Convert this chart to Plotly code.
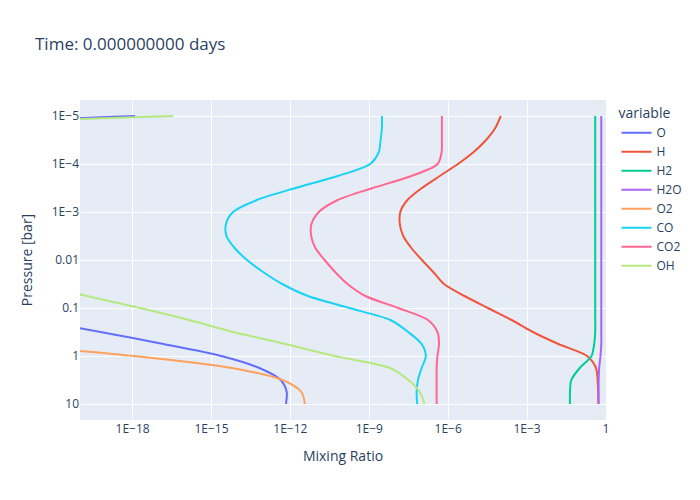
import numpy as np
import pandas as pd
import plotly.express as px

# Pressure levels [bar]
pressure = [1.0e-5, 1.778e-5, 3.162e-5, 5.623e-5, 1.0e-4, 1.778e-4, 3.162e-4, 5.623e-4,
            1.0e-3, 1.778e-3, 3.162e-3, 5.623e-3, 1.0e-2, 1.778e-2, 3.162e-2, 5.623e-2,
            1.0e-1, 1.778e-1, 3.162e-1, 5.623e-1, 1.0, 1.778, 3.162, 5.623, 10.0]

N = None
# log10 of mixing ratio, per species, at each pressure level
O_log = [-17.9, -30.5, N, N, N, N, N, N, N, N, N, N, N, N, N, N,
         -24.1, -21.7, -19.22, -16.83, -14.63, -13.18, -12.37, -12.14, -12.17]
H_log = [-4.00, -4.21, -4.56, -5.03, -5.63, -6.32, -7.00, -7.55, -7.82, -7.84, -7.71, -7.40,
         -7.00, -6.57, -6.16, -5.38, -4.49, -3.59, -2.78, -1.81, -0.72, -0.38, -0.32, -0.30, -0.29]
H2_log = [-0.41, -0.41, -0.41, -0.41, -0.41, -0.41, -0.41, -0.41, -0.41, -0.41, -0.41, -0.41,
          -0.41, -0.41, -0.41, -0.41, -0.41, -0.41, -0.41, -0.45, -0.55, -1.0, -1.32, -1.37, -1.37]
H2O_log = [-0.18, -0.18, -0.18, -0.18, -0.18, -0.18, -0.18, -0.18, -0.18, -0.18, -0.18, -0.18,
           -0.18, -0.18, -0.18, -0.18, -0.18, -0.18, -0.18, -0.18, -0.21, -0.26, -0.28, -0.28, -0.28]
O2_log = [N, N, N, N, N, N, N, N, N, N, N, N, N, N, N, N, N, N,
          -27.9, -23.0, -17.95, -14.22, -12.30, -11.58, -11.45]
CO_log = [-8.52, -8.52, -8.57, -8.64, -8.97, -10.20, -11.81, -13.28, -14.18, -14.45, -14.43, -14.12,
          -13.65, -13.04, -12.31, -11.33, -9.76, -8.20, -7.52, -7.01, -6.85, -7.01, -7.15, -7.20, -7.18]
CO2_log = [-6.24, -6.24, -6.24, -6.25, -6.40, -7.40, -8.86, -10.20, -10.92, -11.20, -11.21, -11.05,
           -10.70, -10.30, -9.83, -9.15, -7.90, -6.77, -6.41, -6.35, -6.41, -6.44, -6.44, -6.44, -6.44]
OH_log = [-16.46, -30.1, N, N, N, N, N, N, N, N, N, N, N,
          -23.5, -21.67, -19.74, -17.71, -15.85, -14.17, -12.19, -10.31, -8.22, -7.51, -7.08, -6.90]

species = ["O", "H", "H2", "H2O", "O2", "CO", "CO2", "OH"]
series = [O_log, H_log, H2_log, H2O_log, O2_log, CO_log, CO2_log, OH_log]

rows = []
for name, vals in zip(species, series):
    for p, v in zip(pressure, vals):
        rows.append({"variable": name,
                     "value": (10.0 ** v) if v is not None else np.nan,
                     "Pressure": p})
df = pd.DataFrame(rows)

fig = px.line(df, x="value", y="Pressure", color="variable",
              log_x=True, log_y=True, range_x=[1e-20, 1],
              title="Time: 0.000000000 days")
fig.update_traces(line_shape="spline", line_smoothing=0.8)
fig.update_xaxes(title_text="Mixing Ratio", exponentformat="E", dtick=3)
fig.update_yaxes(title_text="Pressure [bar]", exponentformat="E", autorange="reversed")
fig.update_layout(width=700, height=500)
fig.write_html("out.html")
